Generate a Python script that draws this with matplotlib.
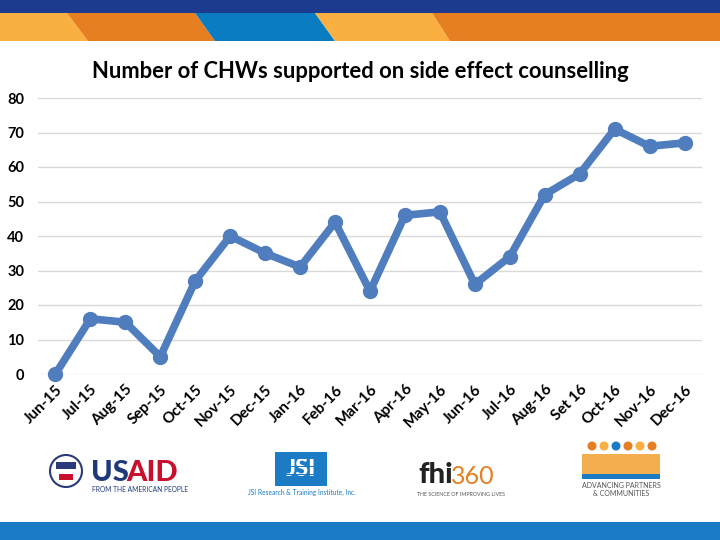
import matplotlib.pyplot as plt
from matplotlib.patches import Polygon, Rectangle, Circle

plt.rcParams['font.family'] = ['Lato', 'DejaVu Sans']

# data
months = ['Jun-15', 'Jul-15', 'Aug-15', 'Sep-15', 'Oct-15', 'Nov-15', 'Dec-15',
          'Jan-16', 'Feb-16', 'Mar-16', 'Apr-16', 'May-16', 'Jun-16', 'Jul-16',
          'Aug-16', 'Set 16', 'Oct-16', 'Nov-16', 'Dec-16']
chws = [0, 16, 15, 5, 27, 40, 35, 31, 44, 24, 46, 47, 26, 34, 52, 58, 71, 66, 67]
yticks = [0, 10, 20, 30, 40, 50, 60, 70, 80]

title = 'Number of CHWs supported on side effect counselling'
line_color = '#4F7DBD'

fig = plt.figure(figsize=(7.2, 5.4), dpi=100)

# background layer in pixel coordinates (banner, footer, logos)
bg = fig.add_axes([0, 0, 1, 1], zorder=0)
bg.set_xlim(0, 720)
bg.set_ylim(540, 0)
bg.axis('off')

bg.add_patch(Rectangle((0, 0), 720, 13, color='#1C3A8E', lw=0))
bands = [
    ([(0, 13), (67, 13), (88, 41), (0, 41)], '#F9B040'),
    ([(67, 13), (195, 13), (215, 41), (88, 41)], '#E67F22'),
    ([(195, 13), (315, 13), (335, 41), (215, 41)], '#0A7DC2'),
    ([(315, 13), (432, 13), (450, 41), (335, 41)], '#F9B040'),
    ([(432, 13), (720, 13), (720, 41), (450, 41)], '#E67F22'),
]
for pts, c in bands:
    bg.add_patch(Polygon(pts, closed=True, color=c, lw=0))
bg.add_patch(Rectangle((0, 522), 720, 18, color='#1B7BC4', lw=0))

# USAID logo
bg.add_patch(Circle((66, 471), 16, facecolor='white', edgecolor='#2B3A7A', lw=1.5))
bg.add_patch(Rectangle((56, 462), 20, 7, color='#2B3A7A', lw=0))
bg.add_patch(Rectangle((59, 474), 14, 6, color='#C8102E', lw=0))
bg.text(91, 473, 'US', fontsize=21, fontweight='black', color='#1F3A7A',
        ha='left', va='center')
bg.text(126, 473, 'AID', fontsize=21, fontweight='black', color='#C8102E',
        ha='left', va='center')
bg.text(92, 489, 'FROM THE AMERICAN PEOPLE', fontsize=4.8, color='#1F3A7A',
        ha='left', va='center')

# JSI logo
bg.add_patch(Rectangle((275, 452), 52, 34, color='#1B7BC4', lw=0))
bg.text(301, 468, 'JSI', fontsize=17, fontweight='black', color='white',
        ha='center', va='center')
for yy in (458, 466, 474, 481):
    bg.add_patch(Rectangle((275, yy), 52, 1.2, color='#1B7BC4', lw=0, zorder=3))
bg.text(302, 492, 'JSI Research & Training Institute, Inc.', fontsize=4.8,
        color='#1B7BC4', ha='center', va='center')

# fhi360 logo
bg.text(418, 475, 'fhi', fontsize=21, fontweight='black', color='#222222',
        ha='left', va='center')
bg.text(451, 477, '360', fontsize=18, color='#E67F22', ha='left', va='center')
bg.text(461, 495, 'THE SCIENCE OF IMPROVING LIVES', fontsize=3.8,
        color='#555555', ha='center', va='center')

# APC logo
for xx, c in zip((592, 604, 616, 628, 640, 652),
                 ('#E67F22', '#F9B040', '#1B7BC4', '#E67F22', '#F9B040', '#E67F22')):
    bg.add_patch(Circle((xx, 446), 4.5, color=c, lw=0))
bg.add_patch(Rectangle((582, 454), 78, 20, color='#F0A030', lw=0, alpha=0.85))
bg.add_patch(Rectangle((582, 474), 78, 5, color='#1B7BC4', lw=0))
bg.text(621, 486, 'ADVANCING PARTNERS', fontsize=5, color='#555555',
        ha='center', va='center')
bg.text(621, 494, '& COMMUNITIES', fontsize=5, color='#555555',
        ha='center', va='center')

# chart
ax = fig.add_axes([38 / 720, 1 - 374 / 540, 664 / 720, 276 / 540], zorder=1)
ax.patch.set_alpha(0)
x = list(range(len(months)))
ax.plot(x, chws, color=line_color, lw=5.5, marker='o', markersize=10,
        solid_capstyle='round', clip_on=False, zorder=3)

ax.set_xlim(-0.5, len(months) - 0.5)
ax.set_ylim(0, 80)
ax.set_yticks(yticks)
ax.set_yticklabels([str(v) for v in yticks], fontsize=10.5, fontweight='bold')
ax.set_xticks(x)
ax.set_xticklabels(months, rotation=45, ha='right', rotation_mode='anchor',
                   fontsize=11, fontweight='bold')
ax.tick_params(length=0, pad=6)
ax.tick_params(axis='y', pad=10)
ax.grid(axis='y', color='#D9D9D9', lw=1)
ax.set_axisbelow(True)
for s in ax.spines.values():
    s.set_visible(False)

fig.text(0.5, 1 - 71 / 540, title, ha='center', va='center',
         fontsize=15.8, fontweight='bold')

plt.savefig('out.png', dpi=100)
